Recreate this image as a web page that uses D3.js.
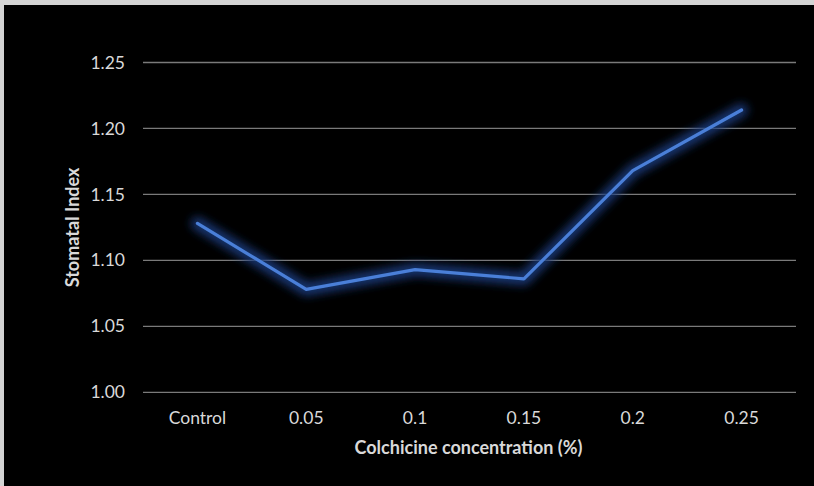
<!DOCTYPE html>
<html>
<head>
<meta charset="utf-8">
<script src="https://cdn.jsdelivr.net/npm/d3@7"></script>
<style>
  html, body { margin: 0; padding: 0; background: #d4d4d4; }
  svg { display: block; }
</style>
</head>
<body>
<script>
// Stomatal index by colchicine concentration
const categories = ["Control", "0.05", "0.1", "0.15", "0.2", "0.25"];
const stomatalIndex = [1.128, 1.078, 1.093, 1.086, 1.168, 1.214];
const yTicks = [1.00, 1.05, 1.10, 1.15, 1.20, 1.25];

const W = 814, H = 486;
const svg = d3.select("body").append("svg").attr("width", W).attr("height", H);

// chart panel
svg.append("rect").attr("x", 0).attr("y", 0).attr("width", W).attr("height", H).attr("fill", "#d4d4d4");
svg.append("rect").attr("x", 4).attr("y", 5).attr("width", W - 4).attr("height", H - 5).attr("fill", "#000");

const plot = { left: 143, right: 796, top: 62.5, bottom: 392.3 };

const x = d3.scaleBand().domain(categories).range([plot.left, plot.right]);
const y = d3.scaleLinear().domain([1.00, 1.25]).range([plot.bottom, plot.top]);

const font = "Lato, 'Open Sans', sans-serif";

// gridlines
svg.append("g").selectAll("line").data(yTicks).join("line")
  .attr("x1", plot.left).attr("x2", plot.right)
  .attr("y1", d => y(d)).attr("y2", d => y(d))
  .attr("stroke", "#7a7a7a").attr("stroke-width", 1.3);

// y axis labels
const yAxis = svg.append("g").attr("transform", `translate(${plot.left - 18},0)`)
  .call(d3.axisLeft(y).tickValues(yTicks).tickFormat(d3.format(".2f")).tickSize(0).tickPadding(0));
yAxis.select(".domain").remove();
yAxis.selectAll("text").attr("fill", "#d9d9d9").attr("font-size", 17.5).attr("font-family", font);

// x axis labels
const xAxis = svg.append("g").attr("transform", `translate(0,${plot.bottom + 19})`)
  .call(d3.axisBottom(x).tickSize(0).tickPadding(0));
xAxis.select(".domain").remove();
xAxis.selectAll("text").attr("fill", "#d9d9d9").attr("font-size", 17.5).attr("font-family", font);

// axis titles
svg.append("text").attr("x", (plot.left + plot.right) / 2 - 1).attr("y", 454)
  .attr("text-anchor", "middle").attr("fill", "#d9d9d9").attr("font-weight", "bold")
  .attr("font-size", 18).attr("font-family", font).text("Colchicine concentration (%)");
svg.append("text").attr("transform", `translate(79,${(plot.top + plot.bottom) / 2}) rotate(-90)`)
  .attr("text-anchor", "middle").attr("fill", "#d9d9d9").attr("font-weight", "bold")
  .attr("font-size", 18).attr("font-family", font).text("Stomatal Index");

// glow filter
const defs = svg.append("defs");
const f = defs.append("filter").attr("id", "glow").attr("x", "-20%").attr("y", "-50%").attr("width", "140%").attr("height", "200%");
f.append("feGaussianBlur").attr("stdDeviation", 5);

const line = d3.line().x((d, i) => x(categories[i]) + x.bandwidth() / 2).y(d => y(d));

svg.append("path").datum(stomatalIndex).attr("d", line)
  .attr("fill", "none").attr("stroke", "#1c3e80").attr("stroke-width", 13)
  .attr("stroke-linejoin", "round").attr("stroke-linecap", "round")
  .attr("opacity", 0.9).attr("filter", "url(#glow)");
svg.append("path").datum(stomatalIndex).attr("d", line)
  .attr("fill", "none").attr("stroke", "#4a7fd8").attr("stroke-width", 3.2)
  .attr("stroke-linejoin", "round").attr("stroke-linecap", "round");
</script>
</body>
</html>
